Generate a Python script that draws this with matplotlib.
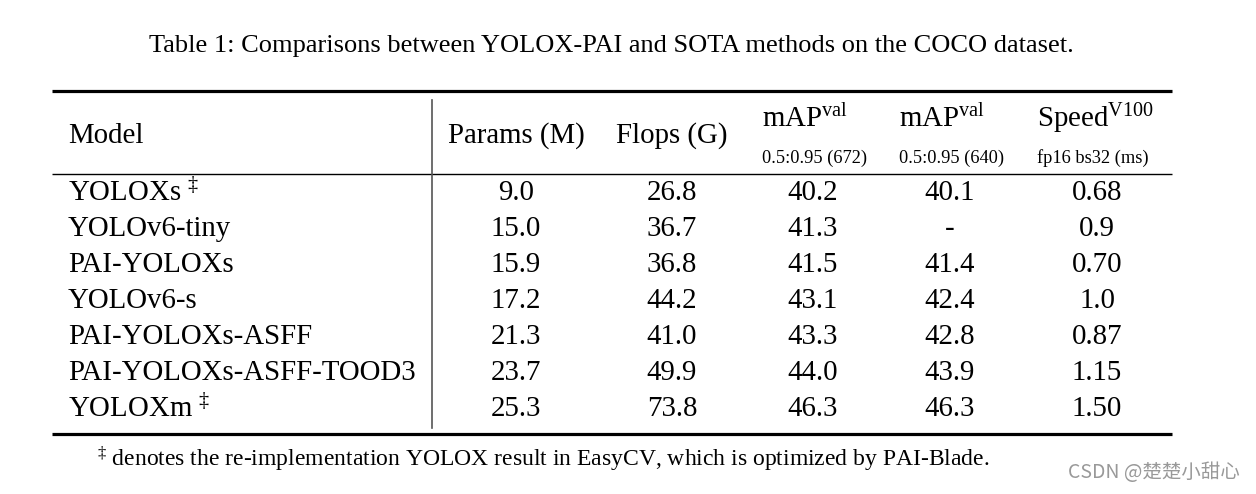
import matplotlib
matplotlib.use("Agg")
import matplotlib.pyplot as plt

# fuentes tipo Times
plt.rcParams['font.family'] = ['Liberation Serif', 'DejaVu Serif']
plt.rcParams['mathtext.fontset'] = 'custom'
plt.rcParams['mathtext.rm'] = 'Liberation Serif'
plt.rcParams['mathtext.it'] = 'Liberation Serif:italic'
plt.rcParams['mathtext.bf'] = 'Liberation Serif:bold'

# datos de la tabla
models = ["YOLOXs", "YOLOv6-tiny", "PAI-YOLOXs", "YOLOv6-s",
          "PAI-YOLOXs-ASFF", "PAI-YOLOXs-ASFF-TOOD3", "YOLOXm"]
reimpl = [True, False, False, False, False, False, True]
params = ["9.0", "15.0", "15.9", "17.2", "21.3", "23.7", "25.3"]
flops = ["26.8", "36.7", "36.8", "44.2", "41.0", "49.9", "73.8"]
map672 = ["40.2", "41.3", "41.5", "43.1", "43.3", "44.0", "46.3"]
map640 = ["40.1", "-", "41.4", "42.4", "42.8", "43.9", "46.3"]
speed = ["0.68", "0.9", "0.70", "1.0", "0.87", "1.15", "1.50"]

title = "Table 1: Comparisons between YOLOX-PAI and SOTA methods on the COCO dataset."
footnote = "denotes the re-implementation YOLOX result in EasyCV, which is optimized by PAI-Blade."

W, H = 1256, 494
fig = plt.figure(figsize=(W / 100, H / 100), dpi=100)
ax = fig.add_axes([0, 0, 1, 1])
ax.set_xlim(0, W)
ax.set_ylim(H, 0)
ax.axis('off')

big = 20.8
small = 13.25

ax.text(611, 46, title, ha='center', va='center', fontsize=19)

# reglas horizontales
ax.plot([52, 1172], [91, 91], color='black', lw=2.3, solid_capstyle='butt')
ax.plot([52, 1172], [174, 174], color='black', lw=1.0, solid_capstyle='butt')
ax.plot([52, 1172], [434, 434], color='black', lw=2.3, solid_capstyle='butt')
# regla vertical
ax.plot([432, 432], [100, 428], color='#555555', lw=1.2)

# encabezado
ax.text(68, 136, "Model", ha='left', va='center', fontsize=big)
ax.text(516, 136, "Params (M)", ha='center', va='center', fontsize=big)
ax.text(672, 136, "Flops (G)", ha='center', va='center', fontsize=big)
ax.text(762, 119, r"mAP$^{\mathrm{val}}$", ha='left', va='center', fontsize=big)
ax.text(762, 158, "0.5:0.95 (672)", ha='left', va='center', fontsize=small)
ax.text(899, 119, r"mAP$^{\mathrm{val}}$", ha='left', va='center', fontsize=big)
ax.text(899, 158, "0.5:0.95 (640)", ha='left', va='center', fontsize=small)
ax.text(1037, 119, r"Speed$^{\mathrm{V100}}$", ha='left', va='center', fontsize=big)
ax.text(1037, 158, "fp16 bs32 (ms)", ha='left', va='center', fontsize=small)

# filas
col_x = [516, 672, 813, 950, 1097]
row_y0, row_dy = 193, 36
for i, m in enumerate(models):
    y = row_y0 + i * row_dy
    label = m + r" $^{\ddagger}$" if reimpl[i] else m
    ax.text(68, y, label, ha='left', va='center', fontsize=big)
    for x, col in zip(col_x, [params, flops, map672, map640, speed]):
        ax.text(x, y, col[i], ha='center', va='center', fontsize=big)

# nota al pie
ax.text(97, 459, r"$^{\ddagger}$ " + footnote, ha='left', va='center', fontsize=17)

# marca de agua
ax.text(1240, 472, "CSDN @楚楚小甜心", ha='right', va='center', fontsize=14,
        color='#999999', family=['Noto Sans CJK SC', 'DejaVu Sans'])

fig.savefig("out.png", dpi=100)
